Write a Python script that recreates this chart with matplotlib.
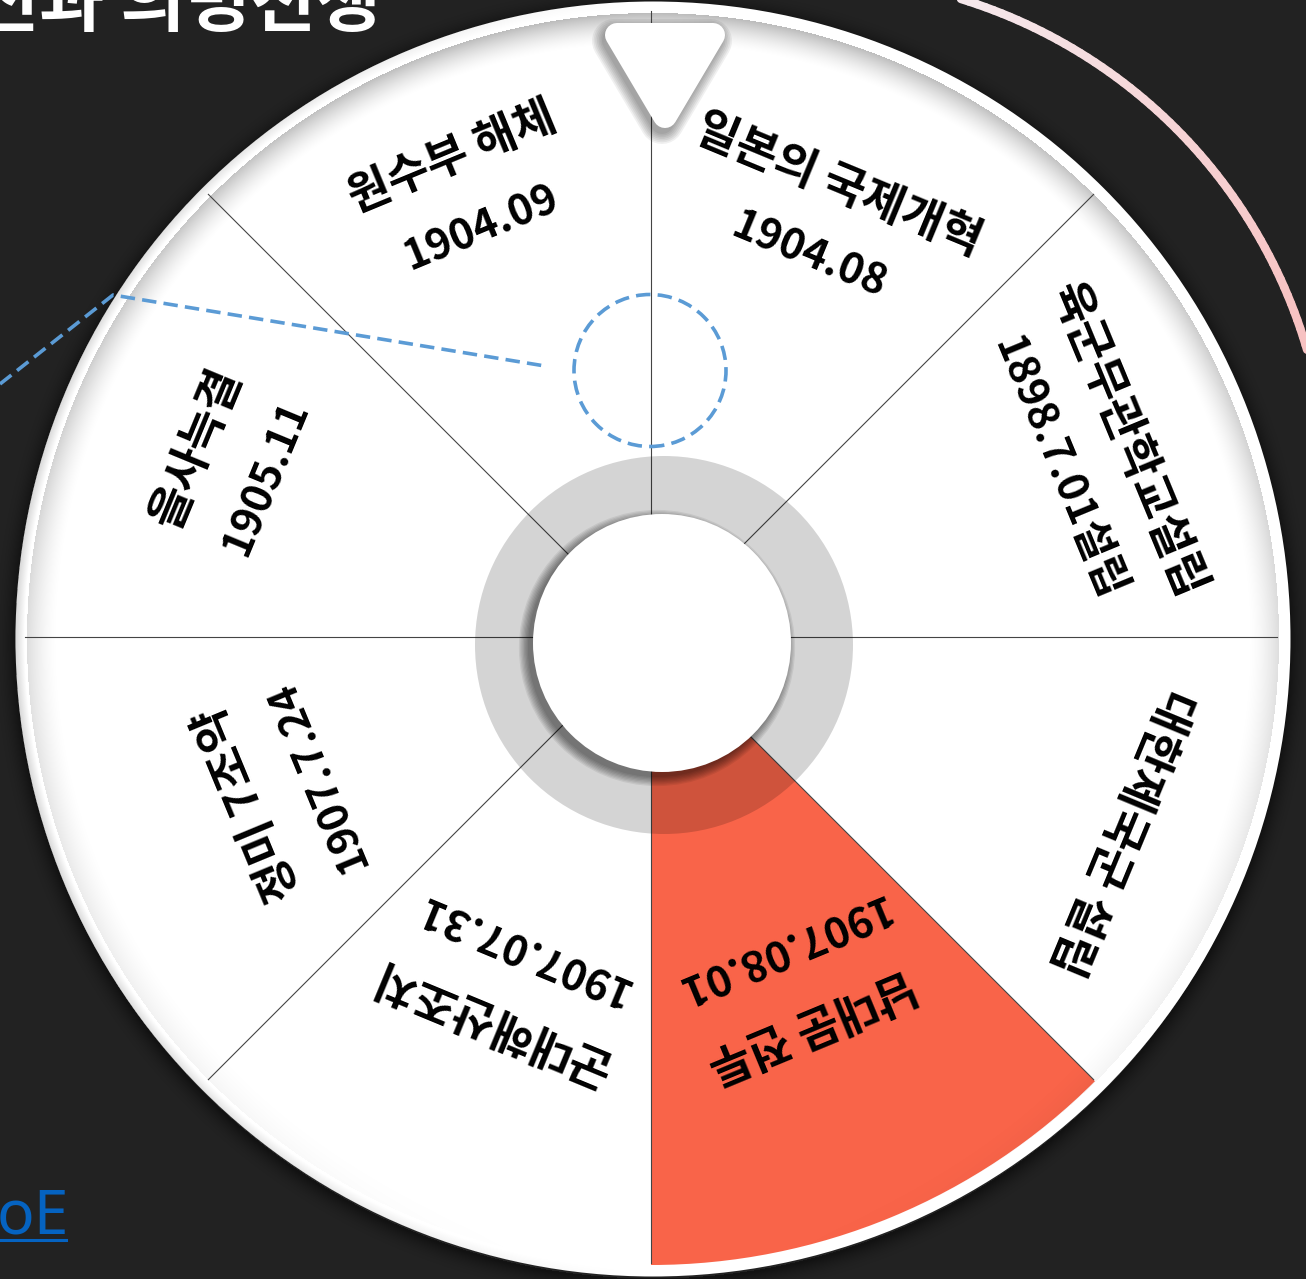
import numpy as np
import matplotlib.pyplot as plt
from matplotlib.patches import Circle, Polygon
from matplotlib.collections import LineCollection

W, H = 1306, 1279
plt.rcParams['font.family'] = ['Noto Sans CJK KR', 'DejaVu Sans']

# 데이터 (0도부터 반시계 방향, 한 칸 45도)
titles = ['육군무관학교설립', '일본의 국제개혁', '원수부 해체', '을사늑결',
          '정미 7조약', '군대해산조치', '남대문 전투', '대한제국군 설립']
dates = ['1898.7.01설립', '1904.08', '1904.09', '1905.11',
         '1907.7.24', '1907.07.31', '1907.08.01', '']
weights = [1, 1, 1, 1, 1, 1, 1, 1]
highlight = 6
head_text = '전과 의병전쟁'
link_text = 'oE'

# 글자 위치 (중심에서 거리, px)
title_r = [515, 489, 518, 492, 436, 416, 420, 508]
date_r = [441, 413, 443, 416, 361, 337, 337, 0]

# 좌표: 그림 픽셀, y 위쪽
CX, CY = 651, H - 637          # 칸 중심
DX, DY = 653, H - 639          # 접시 중심
R_DISC = 637.5
R_WEDGE = 628


def pol(cx, cy, r, deg):
    a = np.radians(deg)
    return cx + r * np.cos(a), cy + r * np.sin(a)


fig = plt.figure(figsize=(W / 100, H / 100), dpi=100)
fig.patch.set_facecolor('#222222')
ax = fig.add_axes([0, 0, 1, 1])
ax.set_facecolor('#222222')

# 픽셀 격자 (음영용)
gx = np.arange(W) + 0.5
gy = H - (np.arange(H) + 0.5)
GX, GY = np.meshgrid(gx, gy)

# 뒤쪽 분홍 호
acx, acy, ar = 808, H - 496, 520
phi = np.linspace(-15, 100, 120)
px, py = pol(acx, acy, ar, phi)
segs = [[(px[i], py[i]), (px[i + 1], py[i + 1])] for i in range(len(phi) - 1)]
c0 = np.array([244, 243, 248]) / 255
c1 = np.array([247, 194, 194]) / 255
t = np.clip((88 - phi[:-1]) / 68, 0, 1)[:, None]
ax.add_collection(LineCollection(segs, colors=c0 * (1 - t) + c1 * t,
                                 linewidths=6, capstyle='round', zorder=1))

# 접시 바깥 그림자
rr = np.hypot(GX - DX, GY - (DY - 4))
sh = np.zeros((H, W, 4))
sh[..., 3] = np.where(rr > R_DISC - 2, 0.45 * np.clip(1 - (rr - R_DISC) / 22, 0, 1) ** 2, 0)
ax.imshow(sh, extent=(0, W, 0, H), origin='upper', interpolation='nearest', zorder=2)

ax.add_patch(Circle((DX, DY), R_DISC, color='white', lw=0, zorder=3))

# 칸
colors = ['#f96449' if i == highlight else 'white' for i in range(len(weights))]
ax.pie(weights, colors=colors, startangle=0, counterclock=True,
       center=(CX, CY), radius=R_WEDGE, frame=True,
       wedgeprops=dict(linewidth=0, zorder=4))

# 테두리 음영
rr = np.hypot(GX - DX, GY - DY)
ang = np.arctan2(GY - DY, GX - DX)
inner = np.where(rr < 626, np.clip((rr - 594) / 32, 0, 1) ** 1.6, 0)
inner *= 0.27 * (0.5 + 0.5 * np.sin(ang))
outer = np.where((rr > 628) & (rr < R_DISC), np.clip((rr - 628) / 9.5, 0, 1), 0)
outer *= 0.16 * np.clip(-np.cos(ang), 0, 1)
rim = np.zeros((H, W, 4))
rim[..., 3] = inner + outer
ax.imshow(rim, extent=(0, W, 0, H), origin='upper', interpolation='nearest', zorder=5)

# 칸 구분선
for i in range(len(weights)):
    a = 360 * sum(weights[:i]) / sum(weights)
    ex, ey = pol(CX, CY, 626, a)
    ax.plot([CX, ex], [CY, ey], color='#444444', lw=0.8, zorder=6)

# 가운데 회색 고리와 흰 원
ax.add_patch(Circle((664, H - 645), 189, color='black', alpha=0.17, lw=0, zorder=7))
for k in range(8):
    ax.add_patch(Circle((657, H - 648), 129 + k * 1.3, color='black',
                        alpha=0.07, lw=0, zorder=8))
ax.add_patch(Circle((662, H - 643), 129, color='white', lw=0, zorder=9))

# 글자
for i in range(len(titles)):
    mid = 360 * (sum(weights[:i]) + weights[i] / 2) / sum(weights)
    rot = mid - 90
    x, y = pol(CX, CY, title_r[i], mid)
    ax.text(x, y, titles[i], rotation=rot, rotation_mode='anchor',
            ha='center', va='center', fontsize=33, fontweight='bold',
            color='black', zorder=10)
    if dates[i]:
        x, y = pol(CX, CY, date_r[i], mid)
        ax.text(x, y, dates[i], rotation=rot, rotation_mode='anchor',
                ha='center', va='center', fontsize=30.5, fontweight='bold',
                color='black', zorder=10)

# 파란 점선
blue = '#5b9bd5'
ax.plot([0, 113, 545], [H - 384, H - 295, H - 366], color=blue, lw=2.6,
        ls=(0, (4, 2)), zorder=11)
ax.add_patch(Circle((650, H - 370.5), 76, fill=False, ec=blue, lw=2.6,
                    ls=(0, (4, 2)), zorder=11))

# 위쪽 표시 삼각형
tri = [(617, H - 35), (713, H - 35), (665, H - 116)]
for k in range(7):
    shp = [(x - 3, y - 6) for x, y in tri]
    ax.add_patch(Polygon(shp, closed=True, fc='black', ec='black',
                         lw=17.3 + k * 2.4, joinstyle='round', alpha=0.06,
                         zorder=12))
ax.add_patch(Polygon(tri, closed=True, fc='white', ec='white', lw=17.3,
                     joinstyle='round', zorder=13))

# 제목, 링크 글자
ax.text(-26, H - 26, head_text, ha='left', va='baseline', fontsize=51,
        fontweight='bold', color='white', zorder=14)
ax.text(-3, H - 1234, link_text, ha='left', va='baseline', fontsize=45,
        family=['Noto Sans', 'DejaVu Sans'], color='#0563c1', zorder=14)
ax.plot([0, 66], [H - 1240, H - 1240], color='#0563c1', lw=2.2, zorder=14)

ax.set_xlim(0, W)
ax.set_ylim(0, H)
ax.set_aspect('auto')
ax.axis('off')
fig.savefig('out.png', dpi=100, facecolor=fig.get_facecolor())
